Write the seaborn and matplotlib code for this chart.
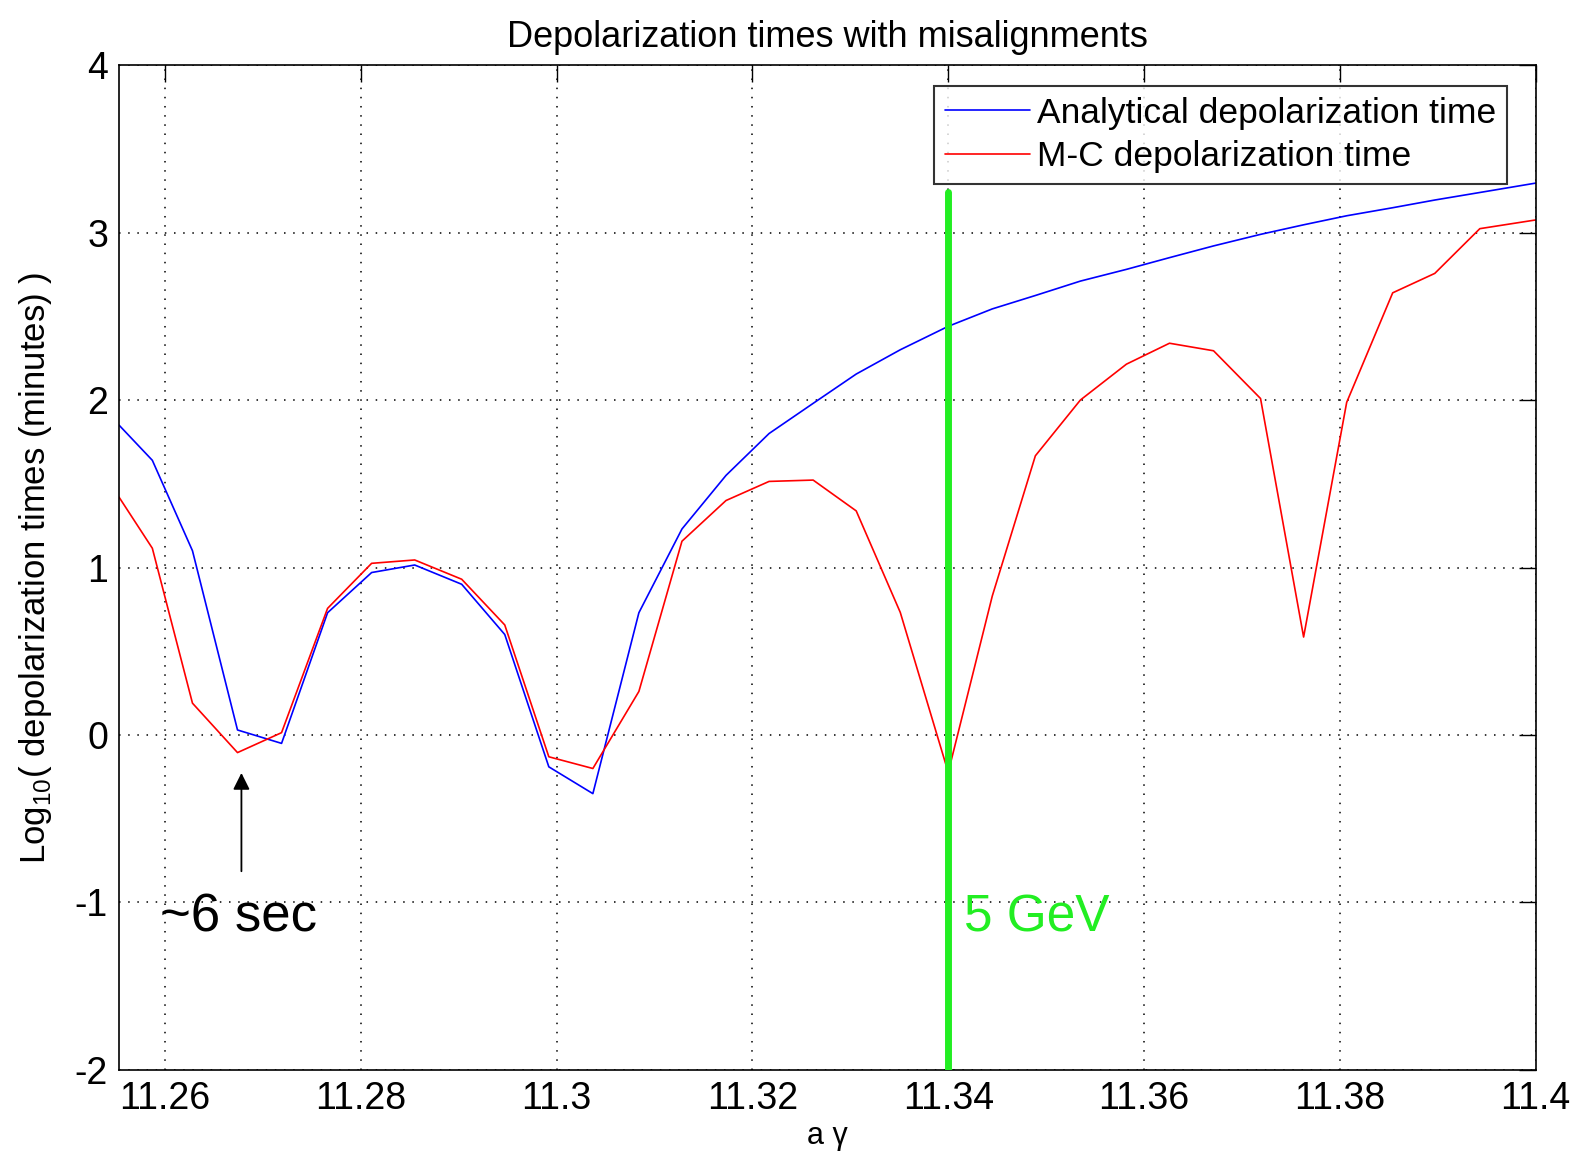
import numpy as np
import pandas as pd
import seaborn as sns
import matplotlib
matplotlib.use("Agg")
import matplotlib.pyplot as plt

# values
a_gamma = [11.2553, 11.2587, 11.2628, 11.2674, 11.2719, 11.2766, 11.2811, 11.2855,
           11.2903, 11.2947, 11.2992, 11.3037, 11.3084, 11.3128, 11.3173, 11.3217,
           11.3262, 11.3306, 11.3351, 11.3400, 11.3445, 11.3489, 11.3535, 11.3582,
           11.3626, 11.3671, 11.3719, 11.3763, 11.3807, 11.3854, 11.3897, 11.3943,
           11.4000]
analytical = [1.85, 1.64, 1.10, 0.03, -0.05, 0.73, 0.97, 1.015,
              0.90, 0.60, -0.19, -0.35, 0.73, 1.23, 1.55, 1.80,
              1.98, 2.155, 2.30, 2.44, 2.544, 2.624, 2.71, 2.78,
              2.85, 2.92, 2.989, 3.046, 3.10, 3.148, 3.194, 3.239,
              3.295]
monte_carlo = [1.42, 1.115, 0.19, -0.105, 0.014, 0.756, 1.025, 1.045,
               0.93, 0.657, -0.13, -0.20, 0.26, 1.157, 1.40, 1.514,
               1.522, 1.338, 0.732, -0.223, 0.83, 1.667, 2.0, 2.214,
               2.339, 2.294, 2.009, 0.585, 1.986, 2.64, 2.756, 3.023,
               3.075]
series_names = ['Analytical depolarization time', 'M-C depolarization time']

xticks = [11.26, 11.28, 11.3, 11.32, 11.34, 11.36, 11.38, 11.4]
xtick_labels = ['11.26', '11.28', '11.3', '11.32', '11.34', '11.36', '11.38', '11.4']
yticks = [-2, -1, 0, 1, 2, 3, 4]

energy_line_x = 11.34
energy_line_top = 3.24

df = pd.DataFrame({
    'a_gamma': a_gamma * 2,
    'logtime': analytical + monte_carlo,
    'series': [series_names[0]] * len(a_gamma) + [series_names[1]] * len(a_gamma),
})

sns.set_style('white')
plt.rcParams['font.family'] = ['Liberation Sans', 'DejaVu Sans']
plt.rcParams['axes.unicode_minus'] = False
plt.rcParams['mathtext.fontset'] = 'custom'
plt.rcParams['mathtext.rm'] = 'Liberation Sans'
plt.rcParams['text.color'] = 'black'
plt.rcParams['axes.labelcolor'] = 'black'
plt.rcParams['xtick.color'] = 'black'
plt.rcParams['ytick.color'] = 'black'

fig = plt.figure(figsize=(15.81, 11.55), dpi=100)
ax = fig.add_axes([0.0753, 0.0736, 0.896, 0.8701])

sns.lineplot(data=df, x='a_gamma', y='logtime', hue='series', sort=False,
             palette=['#0000ff', '#ff0000'], linewidth=1.2, ax=ax)

# 5 GeV marker
ax.plot([energy_line_x, energy_line_x], [-2, energy_line_top], color='#22ee22',
        linewidth=5, zorder=3)
ax.text(energy_line_x + 0.0016, -1.09, '5 GeV', color='#22ee22', fontsize=37,
        va='center', ha='left')

# ~6 sec annotation
ax.annotate('', xy=(11.2678, -0.21), xytext=(11.2678, -0.83),
            arrowprops=dict(arrowstyle='-|>', color='black', lw=1.3,
                            mutation_scale=25))
ax.text(11.2595, -1.09, '~6 sec', fontsize=38, va='center', ha='left')

ax.set_xlim(11.2553, 11.4)
ax.set_ylim(-2, 4)
ax.set_xticks(xticks)
ax.set_xticklabels(xtick_labels)
ax.set_yticks(yticks)
ax.tick_params(direction='in', length=12, width=1, top=True, right=True,
               labelsize=27, pad=8, colors='black')
ax.grid(True, color='black', linestyle=(0, (1, 5)), linewidth=1.1)
for s in ax.spines.values():
    s.set_color('black')
    s.set_linewidth(1.2)

ax.set_title('Depolarization times with misalignments', fontsize=26, pad=13,
             color='black')
ax.set_xlabel('a γ', fontsize=22, labelpad=3)
ax.set_ylabel(r'Log$_{10}$( depolarization times (minutes) )', fontsize=25)
ax.yaxis.set_label_coords(-0.046, 0.5)

leg = ax.legend(loc='upper right', bbox_to_anchor=(0.9795, 0.979), fontsize=25.5,
                frameon=True, fancybox=False, handlelength=2.4,
                handletextpad=0.2, borderpad=0.3, labelspacing=0.3,
                borderaxespad=0)
leg.get_frame().set_edgecolor('black')
leg.get_frame().set_linewidth(1.5)
for line in leg.get_lines():
    line.set_linewidth(1.2)
for t in leg.get_texts():
    t.set_color('black')

fig.savefig('out.png', dpi=100)
